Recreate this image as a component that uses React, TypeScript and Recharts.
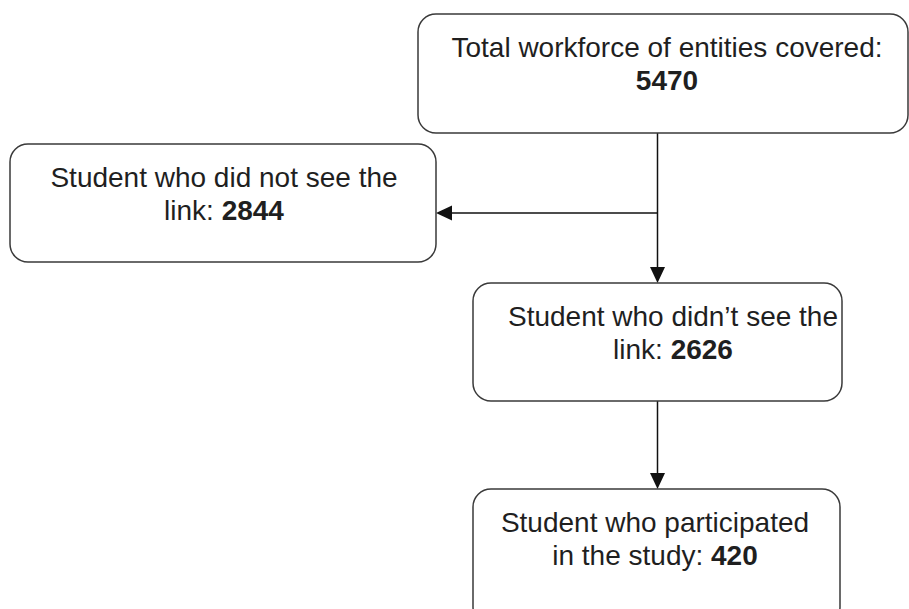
import { ScatterChart, Scatter, XAxis, YAxis, ReferenceLine } from 'recharts'

// flowchart content
const firstLines = [
  'Total workforce of entities covered:',
  'Student who did not see the',
  'Student who didn\u2019t see the',
  'Student who participated',
]
const secondPrefixes = ['', 'link: ', 'link: ', 'in the study: ']
const counts = [5470, 2844, 2626, 420]
// links between nodes: [from, to]
const links = [
  [0, 1],
  [0, 2],
  [2, 3],
]

// layout (chart units = pixels, 909 x 609)
const W = 909
const H = 609
const boxes = [
  { left: 418, top: 14, w: 490, h: 119, textX: 667 },
  { left: 10, top: 144, w: 426, h: 118, textX: 224 },
  { left: 473, top: 283, w: 369, h: 118, textX: 673 },
  { left: 473, top: 489, w: 367, h: 136, textX: 655 },
]
const linkPaths = [
  [{ x: 657.5, y: 213 }, { x: 436, y: 213 }],
  [{ x: 657.5, y: 133 }, { x: 657.5, y: 283 }],
  [{ x: 657.5, y: 401 }, { x: 657.5, y: 489 }],
]

const nodes = firstLines.map((line, i) => ({
  x: boxes[i].left + boxes[i].w / 2,
  y: boxes[i].top + boxes[i].h / 2,
  line,
  prefix: secondPrefixes[i],
  count: counts[i],
  box: boxes[i],
}))

const FONT = 'Arial, "Liberation Sans", sans-serif'

function NodeBox(props: any) {
  const { cx, cy, payload } = props
  const { w, h, textX, left } = payload.box
  const x0 = cx - w / 2
  const y0 = cy - h / 2
  const tx = x0 + (textX - left)
  return (
    <g>
      <rect x={x0} y={y0} width={w} height={h} rx={18} ry={18} fill="#fff" stroke="#3a3a3a" strokeWidth={1.5} />
      <text x={tx} y={y0 + 43} textAnchor="middle" fontFamily={FONT} fontSize={28} fill="#1f1f1f">
        {payload.line}
      </text>
      <text x={tx} y={y0 + 75.5} textAnchor="middle" fontFamily={FONT} fontSize={28} fill="#1f1f1f">
        <tspan>{payload.prefix}</tspan>
        <tspan fontWeight="bold">{payload.count}</tspan>
      </text>
    </g>
  )
}

function ArrowLine(props: any) {
  const { x1, y1, x2, y2 } = props
  const dx = x2 - x1
  const dy = y2 - y1
  const len = Math.sqrt(dx * dx + dy * dy) || 1
  const ux = dx / len
  const uy = dy / len
  const head = 16
  const half = 7.5
  const bx = x2 - ux * head
  const by = y2 - uy * head
  const pts = `${x2},${y2} ${bx - uy * half},${by + ux * half} ${bx + uy * half},${by - ux * half}`
  return (
    <g>
      <line x1={x1} y1={y1} x2={bx} y2={by} stroke="#111" strokeWidth={1.5} />
      <polygon points={pts} fill="#111" />
    </g>
  )
}

export default function App() {
  return (
    <div style={{ width: W, height: H }}>
      <style>{'body{margin:0}'}</style>
      <ScatterChart width={W} height={H} margin={{ top: 0, right: 0, left: 0, bottom: 0 }}>
        <XAxis type="number" dataKey="x" domain={[0, W]} hide />
        <YAxis type="number" dataKey="y" domain={[0, H]} reversed hide />
        {links.map(([from, to], i) => (
          <ReferenceLine
            key={`${from}-${to}`}
            segment={linkPaths[i]}
            ifOverflow="visible"
            stroke="#111"
            shape={ArrowLine}
          />
        ))}
        <Scatter data={nodes} shape={NodeBox} isAnimationActive={false} />
      </ScatterChart>
    </div>
  )
}
